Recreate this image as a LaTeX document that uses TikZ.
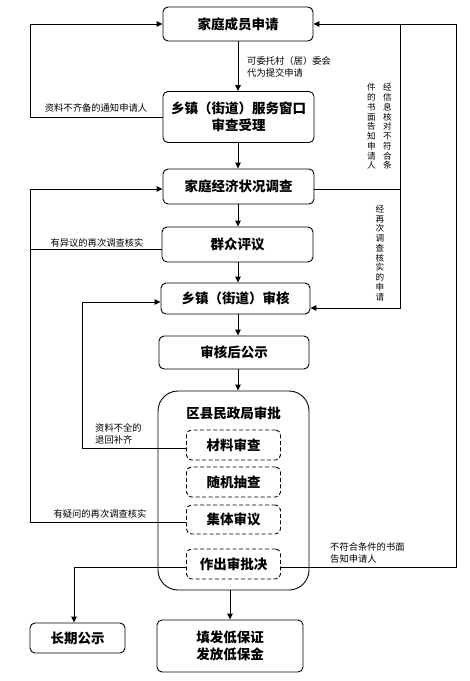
\documentclass[tikz,border=0pt]{standalone}
\usepackage{fontspec}
\setmainfont{Noto Sans CJK SC}
\usetikzlibrary{arrows.meta,calc}
\begin{document}
\begin{tikzpicture}[x=1pt,y=-1pt,
  box/.style={draw,line width=0.9pt,rounded corners=5pt,inner sep=0pt,font=\fontsize{13.5}{17.5}\selectfont\bfseries,align=center},
  dbox/.style={box,dash pattern=on 4pt off 2.5pt,minimum width=94pt,minimum height=30pt},
  lbl/.style={font=\fontsize{9.3}{12.5}\selectfont,inner sep=0pt,align=left},
  vlbl/.style={font=\fontsize{8.6}{9.75}\selectfont,inner sep=0pt,align=center},
  ln/.style={line width=0.9pt},
  arr/.style={ln,-{Triangle[length=6pt,width=5.5pt]}},
]
\useasboundingbox (0,0) rectangle (470,681);
% main nodes
\node[box,minimum width=150pt,minimum height=34pt] (n1) at (238,24) {家庭成员申请};
\node[box,minimum width=151pt,minimum height=51pt] (n2) at (238.5,117) {乡镇（街道）服务窗口\\审查受理};
\node[box,minimum width=151pt,minimum height=35pt] (n3) at (238.5,186.5) {家庭经济状况调查};
\node[box,minimum width=151pt,minimum height=35pt] (n4) at (237.5,244.5) {群众评议};
\node[box,minimum width=149pt,minimum height=31pt] (n5) at (235.5,298.5) {乡镇（街道）审核};
\node[box,minimum width=150pt,minimum height=33pt] (n6) at (234,352.5) {审核后公示};
\node[box,rounded corners=20pt,minimum width=151pt,minimum height=199pt] (big) at (233.5,490.5) {};
\node[font=\fontsize{13.5}{17}\selectfont\bfseries,inner sep=0pt] (title) at (233.5,413) {区县民政局审批};
\node[dbox] (d1) at (233.5,445) {材料审查};
\node[dbox] (d2) at (233.5,482) {随机抽查};
\node[dbox,minimum height=29pt] (d3) at (233.5,519.5) {集体审议};
\node[dbox] (d4) at (233.5,564) {作出审批决};
\node[box,minimum width=95pt,minimum height=30pt] (n7) at (77.5,638) {长期公示};
\node[box,minimum width=146pt,minimum height=52pt] (n8) at (230,646) {填发低保证\\发放低保金};
% helper coordinates
\coordinate (xl) at (30,0);
\coordinate (xm) at (82,0);
\coordinate (xb) at (74,0);
\coordinate (xr1) at (400,0);
\coordinate (xr2) at (456,0);
\coordinate (p4) at ([yshift=-4.5pt]n4.west);
\coordinate (p3) at ([yshift=-2.5pt]n3.west);
\coordinate (pd3) at ([yshift=-2.5pt]d3.west);
\coordinate (pd1) at ([yshift=-3pt]d1.west);
\coordinate (p5l) at ([yshift=-3.5pt]n5.west);
\coordinate (pd4r) at ([yshift=-3.5pt]d4.east);
\coordinate (pd4l) at ([yshift=-3.5pt]d4.west);
\coordinate (p3r) at ([yshift=-2.5pt]n3.east);
\coordinate (p5r) at ([yshift=-9.5pt]n5.east);
% main vertical arrows
\draw[arr] (n1.south) -- (n1.south |- n2.north);
\draw[arr] (n2.south -| n1) -- (n3.north -| n1);
\draw[arr] (n3.south -| n1) -- (n4.north -| n1);
\draw[arr] (n4.south -| n1) -- (n5.north -| n1);
\draw[arr] (n5.south -| n1) -- (n6.north -| n1);
\draw[arr] (n6.south -| n1) -- (big.north -| n1);
\draw[arr] (big.south -| n8) -- (n8.north);
% left loops
\draw[arr] (n2.west) -- (n2.west -| xl) -- (xl |- n1.west) -- (n1.west);
\draw[arr] (pd3) -| (xl |- p3) -- (p3);
\draw[ln] (p4) -- (p4 -| xl);
\draw[arr] (pd1) -| (xm |- p5l) -- (p5l);
\draw[arr] (pd4l) -| (xb |- n7.north);
% right loops
\draw[arr] (pd4r) -| (xr2 |- n1.east) -- (n1.east);
\draw[ln] (xr1 |- n1.east) -- (xr1 |- p3r);
\draw[ln] (p3r) -- (xr1 |- p3r);
\draw[arr] (xr1 |- p3r) |- (p5r);
% labels
\node[lbl,anchor=west] (t1) at (247,67) {可委托村（居）委会\\代为提交申请};
\node[lbl] (t2) at (96,108) {资料不齐备的通知申请人};
\node[lbl] (t3) at (97,243) {有异议的再次调查核实};
\node[lbl,anchor=west] (t4) at (95,434) {资料不全的\\退回补齐};
\node[lbl] (t5) at (100,514) {有疑问的再次调查核实};
\node[lbl,anchor=west] (t6) at (330,553) {不符合条件的书面\\告知申请人};
\node[vlbl] (v1) at (387.5,126.5) {经\\信\\息\\核\\对\\不\\符\\合\\条};
\node[vlbl] (v2) at (371.5,126.5) {件\\的\\书\\面\\告\\知\\申\\请\\人};
\node[vlbl] (v3) at (380,253) {经\\再\\次\\调\\查\\核\\实\\的\\申\\请};
\end{tikzpicture}
\end{document}
